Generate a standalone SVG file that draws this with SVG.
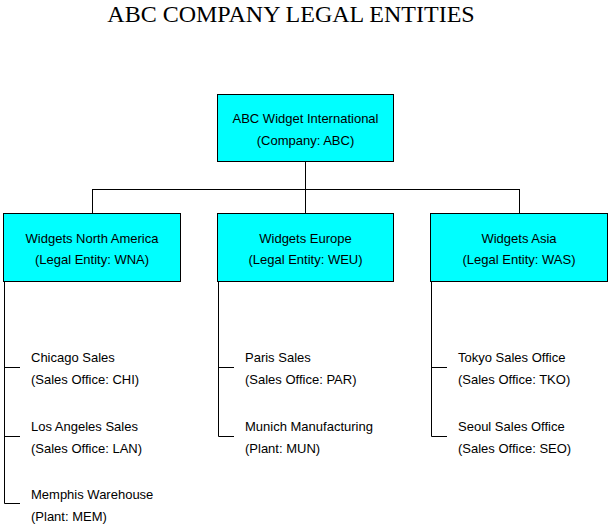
<svg xmlns="http://www.w3.org/2000/svg" width="612" height="531" viewBox="0 0 612 531">
<style>
.box{fill:#00ffff;stroke:#000;stroke-width:1}
.t{font-family:"Liberation Sans",Arial,sans-serif;font-size:13px;fill:#000}
.c{text-anchor:middle}
.ln{stroke:#000;stroke-width:1;fill:none}
</style>
<rect width="612" height="531" fill="#fff"/>
<text x="291" y="22" text-anchor="middle" font-family="'Liberation Serif','Times New Roman',serif" font-size="24">ABC COMPANY LEGAL ENTITIES</text>
<g id="connectors">
<path class="ln" d="M305.5 161V213M92.5 189.5H519.5M92.5 189V213M519.5 189V213"/>
<path class="ln" d="M4.5 281V503.5M4.5 367.5H20M4.5 436.5H20M4.5 503.5H20"/>
<path class="ln" d="M218.5 281V436.5M218.5 367.5H234M218.5 436.5H234"/>
<path class="ln" d="M431.5 281V436.5M431.5 367.5H447M431.5 436.5H447"/>
</g>
<g id="abc">
<rect class="box" x="217.5" y="94.5" width="176" height="67"/>
<text class="t c" x="305.5" y="123">ABC Widget International</text>
<text class="t c" x="305.5" y="145">(Company: ABC)</text>
</g>
<g id="wna">
<rect class="box" x="3.5" y="213.5" width="177" height="68"/>
<text class="t c" x="92" y="243">Widgets North America</text>
<text class="t c" x="92" y="264">(Legal Entity: WNA)</text>
</g>
<g id="weu">
<rect class="box" x="217.5" y="213.5" width="176" height="68"/>
<text class="t c" x="305.5" y="243">Widgets Europe</text>
<text class="t c" x="305.5" y="264">(Legal Entity: WEU)</text>
</g>
<g id="was">
<rect class="box" x="430.5" y="213.5" width="177" height="68"/>
<text class="t c" x="519" y="243">Widgets Asia</text>
<text class="t c" x="519" y="264">(Legal Entity: WAS)</text>
</g>
<g id="chi"><text class="t" x="31" y="362">Chicago Sales</text><text class="t" x="31" y="384">(Sales Office: CHI)</text></g>
<g id="lan"><text class="t" x="31" y="431">Los Angeles Sales</text><text class="t" x="31" y="453">(Sales Office: LAN)</text></g>
<g id="mem"><text class="t" x="31" y="499">Memphis Warehouse</text><text class="t" x="31" y="521">(Plant: MEM)</text></g>
<g id="par"><text class="t" x="245" y="362">Paris Sales</text><text class="t" x="245" y="384">(Sales Office: PAR)</text></g>
<g id="mun"><text class="t" x="245" y="431">Munich Manufacturing</text><text class="t" x="245" y="453">(Plant: MUN)</text></g>
<g id="tko"><text class="t" x="458" y="362">Tokyo Sales Office</text><text class="t" x="458" y="384">(Sales Office: TKO)</text></g>
<g id="seo"><text class="t" x="458" y="431">Seoul Sales Office</text><text class="t" x="458" y="453">(Sales Office: SEO)</text></g>
</svg>
